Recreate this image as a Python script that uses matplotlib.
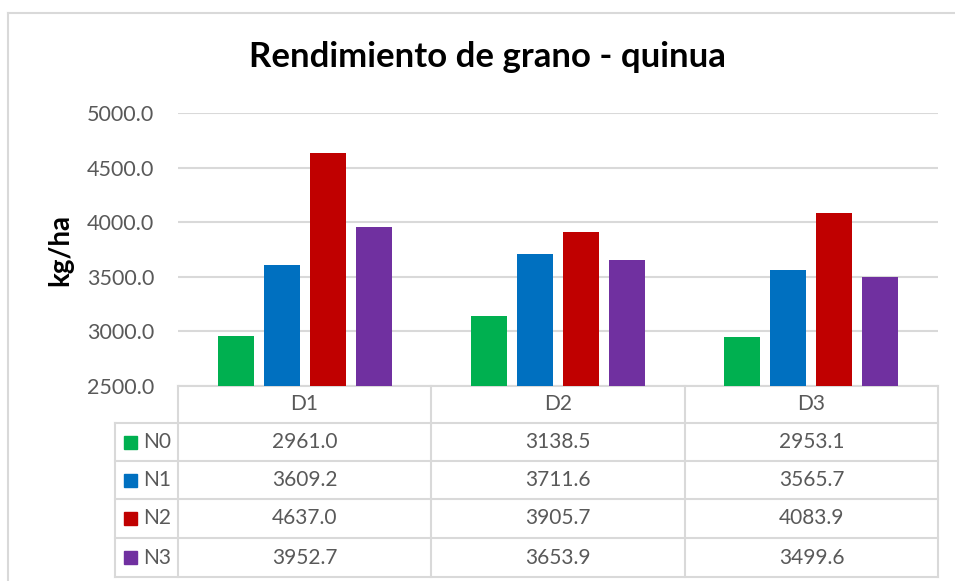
import numpy as np
import matplotlib.pyplot as plt
from matplotlib.patches import Rectangle

categories = ['D1', 'D2', 'D3']
series = ['N0', 'N1', 'N2', 'N3']
n0 = [2961.0, 3138.5, 2953.1]
n1 = [3609.2, 3711.6, 3565.7]
n2 = [4637.0, 3905.7, 4083.9]
n3 = [3952.7, 3653.9, 3499.6]
yticks = [2500, 3000, 3500, 4000, 4500, 5000]
colors = ['#00B050', '#0070C0', '#C00000', '#7030A0']

W, H = 955, 581
GRID = '#D9D9D9'
TXT = '#595959'
plt.rcParams['font.family'] = ['Lato', 'DejaVu Sans']


def main():
    values = [n0, n1, n2, n3]
    fig = plt.figure(figsize=(W / 100, H / 100), dpi=100)

    # background layer in pixel coords for frame and data table
    bg = fig.add_axes([0, 0, 1, 1])
    bg.set_xlim(0, W)
    bg.set_ylim(H, 0)
    bg.axis('off')

    # chart frame
    bg.plot([8, W], [13, 13], color=GRID, lw=1.5)
    bg.plot([8, 8], [13, H], color=GRID, lw=1.5)

    # plot area
    left, right, top, bottom = 178, 938, 113, 386
    ax = fig.add_axes([left / W, 1 - bottom / H, (right - left) / W, (bottom - top) / H])
    ax.set_xlim(0, len(categories))
    ax.set_ylim(yticks[0], yticks[-1])
    step = 0.1816
    width = 0.142
    x = np.arange(len(categories)) + 0.5
    for i, (vals, c) in enumerate(zip(values, colors)):
        ax.bar(x + (i - 1.5) * step, np.array(vals) - yticks[0], width,
               bottom=yticks[0], color=c, zorder=3)
    ax.set_yticks(yticks)
    ax.set_yticklabels(['%.1f' % t for t in yticks], fontsize=15.5, color=TXT)
    ax.tick_params(axis='y', length=0, pad=17)
    ax.set_xticks([])
    ax.grid(axis='y', color=GRID, lw=1.5, zorder=0)
    for s in ax.spines.values():
        s.set_visible(False)
    ax.patch.set_alpha(0)

    fig.text(60 / W, 1 - 250 / H, 'kg/ha', fontsize=20, fontweight='bold',
             rotation=90, ha='center', va='center')
    fig.text(487 / W, 1 - 57 / H, 'Rendimiento de grano - quinua', fontsize=25,
             fontweight='bold', ha='center', va='center')

    # data table
    col_x = [178, 431, 685, 938]
    row_y = [386, 423, 461, 499, 538, 577]
    lab_x = 115
    lw = 1.5
    bg.plot([col_x[0], col_x[-1]], [row_y[0], row_y[0]], color=GRID, lw=lw)
    for yy in row_y[1:]:
        bg.plot([lab_x, col_x[-1]], [yy, yy], color=GRID, lw=lw)
    for xx in col_x:
        bg.plot([xx, xx], [row_y[0], row_y[-1]], color=GRID, lw=lw)
    bg.plot([lab_x, lab_x], [row_y[1], row_y[-1]], color=GRID, lw=lw)

    for j, cat in enumerate(categories):
        cx = (col_x[j] + col_x[j + 1]) / 2
        bg.text(cx, (row_y[0] + row_y[1]) / 2, cat, ha='center', va='center',
                fontsize=15, color=TXT)
        for i, vals in enumerate(values):
            cy = (row_y[i + 1] + row_y[i + 2]) / 2
            bg.text(cx, cy, '%.1f' % vals[j], ha='center', va='center',
                    fontsize=15, color=TXT)

    for i, (name, c) in enumerate(zip(series, colors)):
        cy = (row_y[i + 1] + row_y[i + 2]) / 2
        bg.add_patch(Rectangle((124, cy - 6.5), 13, 13, color=c))
        bg.text(143, cy, name, ha='left', va='center', fontsize=15, color=TXT)

    fig.savefig('out.png', dpi=100)


if __name__ == '__main__':
    main()
